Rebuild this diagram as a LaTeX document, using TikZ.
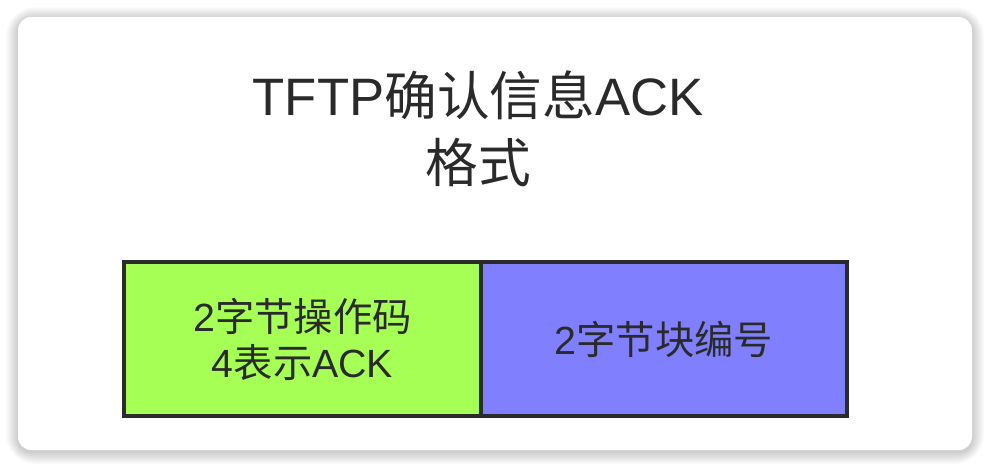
\documentclass[tikz,border=0pt]{standalone}
\usepackage{fontspec}
\setmainfont{Noto Sans CJK SC}
\newfontfamily\lat{Liberation Sans}
\definecolor{fieldgreen}{HTML}{A6FF54}
\definecolor{fieldblue}{HTML}{8080FF}
\definecolor{edgedark}{HTML}{2B2B2B}
\definecolor{inkdark}{HTML}{2A2A2A}
\begin{document}
\begin{tikzpicture}[x=0.75pt,y=-0.75pt,
  field/.style={draw=edgedark,line width=3pt,inner sep=0pt,minimum height=115.5pt,
    align=center,text=inkdark,font=\fontsize{29.5}{34.5}\selectfont},
  titletext/.style={align=center,text=inkdark,font=\fontsize{39.5}{50}\selectfont}]
\useasboundingbox (0,0) rectangle (990,468);
\fill[white] (0,0) rectangle (990,468);
\foreach \i in {1,...,12}{
  \fill[black,opacity=0.016,rounded corners=10+\i] (18-\i,17-\i+2) rectangle (972+\i,450+\i+2);
}
\fill[white,rounded corners=10] (18,17) rectangle (972,450);
\coordinate (card) at (495,233);
\node[titletext] (title) at (478,129) {{\lat TFTP}确认信息{\lat ACK}\\格式};
\node[field,fill=fieldgreen,minimum width=267.75pt] (opbox) at (302.5,339) {{\lat 2}字节操作码\\{\lat 4}表示{\lat ACK}};
\node[field,fill=fieldblue,minimum width=274.5pt] (blkbox) at (664,339) {{\lat 2}字节块编号};
\end{tikzpicture}
\end{document}
